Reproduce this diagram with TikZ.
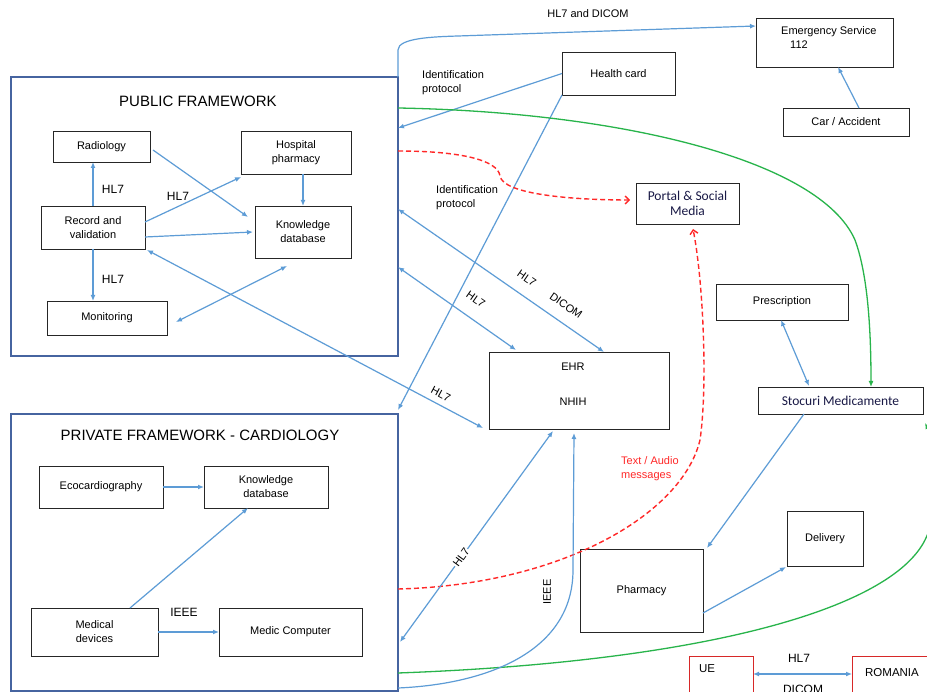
\documentclass[tikz,border=0pt]{standalone}
\usepackage{fontspec}
\setmainfont{Liberation Sans}
\newfontfamily\carlito{Carlito}
\usetikzlibrary{arrows.meta}
\definecolor{ablue}{RGB}{93,156,214}
\definecolor{fblue}{RGB}{70,100,160}
\definecolor{ared}{RGB}{255,40,40}
\definecolor{agreen}{RGB}{40,180,75}
\definecolor{bred}{RGB}{215,40,40}
\definecolor{navy}{RGB}{25,25,70}
\tikzset{
 box/.style={draw=black!85, line width=0.9pt, inner sep=0pt, outer sep=0pt, align=center, font=\fontsize{11}{14}\selectfont},
 frame/.style={draw=fblue, line width=1.1pt, inner sep=0pt, outer sep=0pt},
 conn/.style={draw=ablue, line width=1.2pt, -{Latex[length=6pt,width=5pt]}},
 biconn/.style={draw=ablue, line width=1.2pt, {Latex[length=6pt,width=5pt]}-{Latex[length=6pt,width=5pt]}},
 reddash/.style={draw=ared, line width=1.4pt, dash pattern=on 5pt off 3pt, -{Straight Barb[length=4pt,width=8pt]}},
 greenline/.style={draw=agreen, line width=1.3pt, -{Latex[length=6pt,width=5pt]}},
 lbl/.style={font=\fontsize{11}{14}\selectfont, inner sep=1pt},
 hl/.style={font=\fontsize{12}{14}\selectfont, inner sep=1pt},
 ttl/.style={font=\fontsize{15}{18}\selectfont, inner sep=0pt},
 cal/.style={font=\carlito\fontsize{13.5}{15}\selectfont, text=navy},
}
\begin{document}
\begin{tikzpicture}[x=1pt,y=-1pt]
\useasboundingbox (0,0) rectangle (927,692);
\begin{scope}
\clip (0,0) rectangle (927,692);
\fill[white] (0,0) rectangle (927,692);
% frames
\node[frame, minimum width=387pt, minimum height=279pt] (pub) at (204.5,216.5) {};
\node[frame, minimum width=387pt, minimum height=277pt] (priv) at (204.5,552.5) {};
\node[ttl] (pubT) at (198,101) {PUBLIC FRAMEWORK};
\node[ttl] (privT) at (200,435) {PRIVATE FRAMEWORK - CARDIOLOGY};
% public boxes
\node[box, minimum width=97pt, minimum height=31pt] (rad) at (101.5,146.5) {Radiology};
\node[box, minimum width=110pt, minimum height=43pt] (hph) at (296,152.5) {Hospital\\pharmacy};
\node[box, minimum width=104pt, minimum height=43pt] (rec) at (93,227.5) {Record and\\validation};
\node[box, minimum width=96pt, minimum height=52pt] (kdb) at (303,232) {Knowledge\\database};
\node[box, minimum width=120pt, minimum height=34pt] (mon) at (107,318) {Monitoring};
% private boxes
\node[box, minimum width=124pt, minimum height=42pt] (eco) at (101,487) {Ecocardiography};
\node[box, minimum width=124pt, minimum height=42pt] (kdb2) at (266,487) {Knowledge\\database};
\node[box, minimum width=127pt, minimum height=48pt] (med) at (94.5,632) {Medical\\devices};
\node[box, minimum width=143pt, minimum height=48pt] (mcomp) at (290.5,632) {Medic Computer};
% other boxes
\node[box, minimum width=180pt, minimum height=77pt] (ehr) at (579,390.5) {};
\node[lbl] (ehrT) at (573,367) {EHR};
\node[lbl] (nhihT) at (573,402) {NHIH};
\node[box, minimum width=113pt, minimum height=43pt] (hc) at (618.5,73.5) {Health card};
\node[box, minimum width=137pt, minimum height=49pt] (emg) at (824.5,42.5) {};
\node[lbl, anchor=north west, align=left, inner sep=0pt] (emgT) at (781,26) {Emergency Service\\\hspace*{9pt}112};
\node[box, minimum width=126pt, minimum height=28pt] (car) at (846,122) {Car / Accident};
\node[box, cal, minimum width=103pt, minimum height=41pt] (portal) at (687.5,203.5) {Portal \& Social\\Media};
\node[box, minimum width=132pt, minimum height=36pt] (presc) at (782,302) {Prescription};
\node[box, cal, minimum width=165pt, minimum height=27pt] (stoc) at (840.5,400.5) {Stocuri Medicamente};
\node[box, minimum width=123pt, minimum height=83pt] (phar) at (641.5,590.5) {Pharmacy};
\node[box, minimum width=76pt, minimum height=55pt] (deliv) at (825,538.5) {Delivery};
\node[box, draw=bred, minimum width=64pt, minimum height=44pt] (ue) at (721,678) {};
\node[lbl, font=\fontsize{11.5}{14}\selectfont] (ueT) at (707,669) {UE};
\node[box, draw=bred, minimum width=88pt, minimum height=44pt] (rom) at (896,678) {};
\node[lbl, font=\fontsize{11.5}{14}\selectfont] (romT) at (892,673) {ROMANIA};
% labels
\node[hl] (h1) at (113,189) {HL7};
\node[hl] (h2) at (178,196) {HL7};
\node[hl] (h3) at (113,279) {HL7};
\node[hl] (ieee1) at (184,612) {IEEE};
\node[lbl] (hd) at (588,14) {HL7 and DICOM};
\node[lbl, anchor=north west, align=left, inner sep=0pt] (idp1) at (422,70) {Identification\\protocol};
\node[lbl, anchor=north west, align=left, inner sep=0pt] (idp2) at (436,185) {Identification\\protocol};
\node[lbl, anchor=north west, align=left, inner sep=0pt, text=ared] (tam) at (621,456) {Text / Audio\\messages};
\node[lbl, rotate=90] (ieee2) at (547,592) {IEEE};
\node[hl] (h4) at (799,658) {HL7};
\node[hl] (dic) at (803,689) {DICOM};
% public framework connectors
\draw[conn] (rec.north) -- (rec.north |- rad.south);
\draw[conn] ([yshift=5.5pt]rec.east) -- ([yshift=-3pt]hph.south west);
\draw[conn] ([xshift=3pt,yshift=-3.5pt]rad.east) -- ([xshift=-7pt,yshift=-11pt]kdb.north west);
\draw[conn] ([yshift=-9.5pt]rec.east) -- ([xshift=-2pt]kdb.west);
\draw[conn] (kdb.north |- hph.south) -- (kdb.north);
\draw[conn] (rec.south) -- (rec.south |- mon.north);
\draw[biconn] ([xshift=9pt,yshift=-4pt]mon.east) -- ([xshift=-16pt,yshift=-8pt]kdb.south);
% long links to EHR
\draw[biconn] ([xshift=2pt,yshift=-1pt]rec.south east) -- node[lbl, sloped, pos=0.86, above=5pt] {HL7} ([xshift=-6pt,yshift=1pt]ehr.south west);
\draw[biconn] ([yshift=-50.5pt]pub.east) -- node[lbl, sloped, pos=0.57, above=13pt] {HL7} ([xshift=-63pt,yshift=2pt]ehr.north);
\draw[biconn] ([yshift=7.5pt]pub.east) -- node[lbl, sloped, pos=0.58, above=11pt] {HL7} node[lbl, sloped, pos=0.77, above=11pt] {DICOM} ([xshift=25pt]ehr.north);
% health card
\draw[conn] (hc.west) -- ([yshift=-51pt]pub.north east);
\draw[conn] (hc.south west) -- ([yshift=4pt]priv.north east);
% emergency
\draw[conn] (pub.north east) -- ([yshift=27pt]pub.north east) .. controls +(0,-12) and +(-25,0.8) .. ([xshift=60pt,yshift=41pt]pub.north east) -- ([yshift=16.5pt]emg.west);
\draw[conn] ([xshift=13pt]car.north) -- ([xshift=13.5pt]emg.south);
% red dashed to portal
\coordinate (rw1) at (500,176);
\draw[reddash] ([yshift=-74pt]pub.north east) .. controls +(62,0) and +(-2,-16) .. (rw1) .. controls +(3,18) and +(-60,0) .. ([xshift=-6pt,yshift=3.5pt]portal.west);
\coordinate (r2) at (700,440);
\draw[reddash] ([yshift=-36.5pt]priv.east) .. controls +(162,-4) and +(-18,75) .. (r2) .. controls +(8,-55) and +(10,50) .. ([xshift=5.5pt,yshift=-5pt]portal.south);
% green
\coordinate (g1) at (855,240);
\draw[greenline] ([yshift=-31pt]pub.north east) .. controls +(222,4) and +(-35,-80) .. (g1) .. controls +(13,35) and +(0,-56) .. ([xshift=30.5pt]stoc.north);
\coordinate (g2) at (925,540);
\draw[greenline] ([yshift=-120.5pt]priv.east) .. controls +(302,-11) and +(-35,70) .. (g2) .. controls +(20,-40) and +(10,20) .. ([xshift=2pt,yshift=-9pt]stoc.south east);
% private to EHR
\draw[biconn] ([xshift=2pt,yshift=-89.5pt]priv.east) -- node[lbl, sloped, pos=0.4, fill=white, inner sep=0.5pt] {HL7} ([xshift=-26pt,yshift=-2pt]ehr.south);
\coordinate (i1) at (573,570);
\draw[conn] ([yshift=3pt]priv.south east) .. controls +(92,-4) and +(0,80) .. (i1) -- ([xshift=-5pt,yshift=-4pt]ehr.south);
% pharmacy side
\draw[biconn] ([xshift=-1pt]presc.south) -- ([xshift=-31.5pt,yshift=1pt]stoc.north);
\draw[conn] ([xshift=-36.5pt]stoc.south) -- ([xshift=4pt,yshift=1pt]phar.north east);
\draw[conn] ([yshift=-22.5pt]phar.east) -- ([xshift=-1pt,yshift=-1pt]deliv.south west);
% private framework
\draw[conn] (eco.east) -- (kdb2.west);
\draw[conn] ([xshift=35.5pt]med.north) -- ([xshift=-18pt]kdb2.south);
\draw[conn] (med.east) -- (mcomp.west);
% UE - Romania
\draw[biconn] ([yshift=4pt]ue.east) -- ([yshift=4pt]rom.west);
\end{scope}
\end{tikzpicture}
\end{document}
